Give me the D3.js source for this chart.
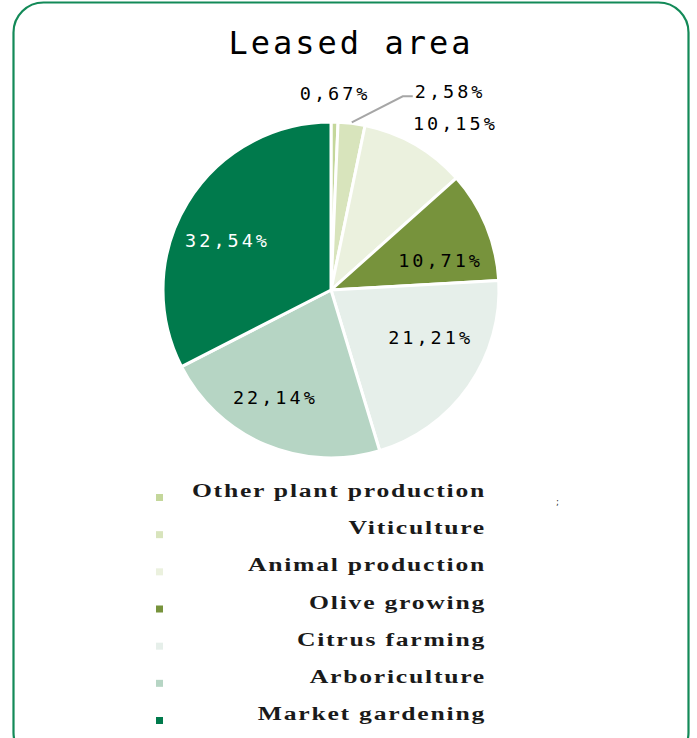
<!DOCTYPE html>
<html>
<head>
<meta charset="utf-8">
<script src="https://cdn.jsdelivr.net/npm/d3@7"></script>
<style>
  html, body { margin: 0; padding: 0; background: #fff; }
  svg { display: block; }
</style>
</head>
<body>
<script>
// ---- data ----
const categories = ["Other plant production", "Viticulture", "Animal production", "Olive growing", "Citrus farming", "Arboriculture", "Market gardening"];
const values = [0.67, 2.58, 10.15, 10.71, 21.21, 22.14, 32.54];
const valueLabels = ["0,67%", "2,58%", "10,15%", "10,71%", "21,21%", "22,14%", "32,54%"];
const colors = ["#c4d79b", "#d8e4bc", "#ebf1de", "#77933c", "#e6efea", "#b6d5c4", "#007a4c"];
const labelColors = ["#000", "#000", "#000", "#000", "#000", "#000", "#fff"];
const title = "Leased area";

// ---- layout ----
const W = 697, H = 738;
const cx = 331, cy = 290, R = 168;

const svg = d3.select("body").append("svg").attr("width", W).attr("height", H);

// frame
svg.append("rect")
  .attr("x", 13.5).attr("y", 2.5)
  .attr("width", 675).attr("height", 760)
  .attr("rx", 30).attr("ry", 30)
  .attr("fill", "#fff")
  .attr("stroke", "#138a58").attr("stroke-width", 2.2);

// title
svg.append("text")
  .attr("x", 351).attr("y", 54)
  .attr("text-anchor", "middle")
  .attr("font-family", "DejaVu Sans Mono")
  .attr("font-size", 32)
  .attr("letter-spacing", 3)
  .attr("fill", "#000")
  .text(title);

const data = categories.map((c, i) => ({ cat: c, value: values[i], label: valueLabels[i], color: colors[i], lc: labelColors[i] }));

const pie = d3.pie().sort(null).value(d => d.value).startAngle(0).endAngle(2 * Math.PI);
const arcs = pie(data);
const arc = d3.arc().innerRadius(0).outerRadius(R);
const labelArc = d3.arc().innerRadius(R * 0.68).outerRadius(R * 0.68);
const outerArc = d3.arc().innerRadius(R * 1.16).outerRadius(R * 1.16);

const g = svg.append("g").attr("transform", `translate(${cx},${cy})`);

g.selectAll("path.slice").data(arcs).join("path")
  .attr("class", "slice")
  .attr("d", arc)
  .attr("fill", d => d.data.color)
  .attr("stroke", "#fff")
  .attr("stroke-width", 3)
  .attr("stroke-linejoin", "round");

// label placement: inside labels use centroid + nudge; small slices go outside
const nudges = [
  { mode: "out", dx: 0, dy: -2 },
  { mode: "leader" },
  { mode: "out", dx: 27, dy: 2 },
  { mode: "in", dx: 4, dy: 14 },
  { mode: "in", dx: 6, dy: -18 },
  { mode: "in", dx: -11, dy: 2 },
  { mode: "in", dx: -6, dy: 10 }
];

const labelFont = { family: "DejaVu Sans Mono", size: 18.5, spacing: 3 };

arcs.forEach((a, i) => {
  const n = nudges[i];
  let x, y, anchor = "middle";
  if (n.mode === "in") {
    const c = labelArc.centroid(a);
    x = c[0] + n.dx; y = c[1] + n.dy;
  } else if (n.mode === "out") {
    const c = outerArc.centroid(a);
    x = c[0] + n.dx; y = c[1] + n.dy;
  } else {
    // leader line
    const mid = (a.startAngle + a.endAngle) / 2;
    const p0 = [Math.sin(mid) * (R + 1), -Math.cos(mid) * (R + 1)];
    const p1 = [p0[0] + 51, p0[1] - 26];
    const p2 = [p1[0] + 10, p1[1]];
    g.append("polyline")
      .attr("points", [p0, p1, p2].map(p => p.join(",")).join(" "))
      .attr("fill", "none")
      .attr("stroke", "#a6a6a6")
      .attr("stroke-width", 2);
    x = p2[0] + 2; y = p2[1] - 5; anchor = "start";
  }
  g.append("text")
    .attr("x", x).attr("y", y)
    .attr("dy", "0.36em")
    .attr("text-anchor", anchor)
    .attr("font-family", labelFont.family)
    .attr("font-size", labelFont.size)
    .attr("letter-spacing", labelFont.spacing)
    .attr("fill", a.data.lc)
    .text(a.data.label);
});

// legend
const legendY = d3.scalePoint().domain(categories).range([491, 714]);
const lg = svg.append("g");
categories.forEach((c, i) => {
  const y = legendY(c);
  lg.append("rect")
    .attr("x", 156).attr("y", y + 3)
    .attr("width", 7).attr("height", 7)
    .attr("fill", colors[i]);
  lg.append("text")
    .attr("transform", `translate(486,${y + 6}) scale(1.35,1)`)
    .attr("text-anchor", "end")
    .attr("font-family", "Liberation Serif")
    .attr("font-weight", "bold")
    .attr("font-size", 19)
    .attr("letter-spacing", 1.3)
    .attr("fill", "#1a1a1a")
    .text(c);
});
// small stray mark near legend
svg.append("text")
  .attr("x", 556).attr("y", 505)
  .attr("font-family", "DejaVu Sans")
  .attr("font-size", 9)
  .attr("fill", "#333")
  .text(";");
</script>
</body>
</html>
